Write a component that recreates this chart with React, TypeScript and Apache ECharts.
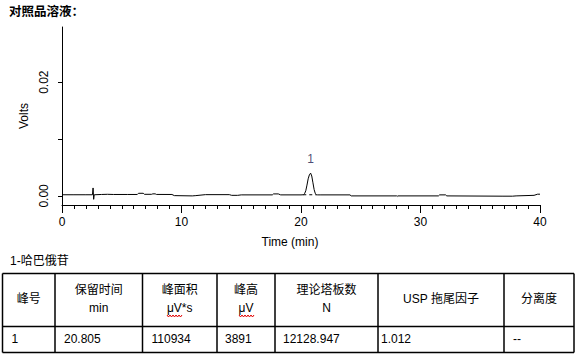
import React, { useEffect, useRef } from 'react';
import * as echarts from 'echarts';

// ---------- data ----------
const titleText = '对照品溶液：';
const compoundLabel = '1-哈巴俄苷';
const xAxisName = 'Time (min)';
const yAxisName = 'Volts';

// chromatogram trace (minutes, volts)
const times = [
  0, 1.0, 2.0, 2.55, 2.6, 2.65, 2.7, 3.3, 3.8, 4.3, 5.5, 6.3, 6.4, 6.8, 6.9, 7.5, 7.6, 7.8, 7.9,
  9.2, 9.4, 10.9, 11.2, 12.0, 14.0, 14.2, 14.7, 15.0, 17.6, 17.7, 18.1, 18.3, 20.0,
  20.2, 20.3, 20.4, 20.5, 20.6, 20.7, 20.805, 20.9, 21.0, 21.1, 21.2, 21.3, 21.4, 21.6,
  24.1, 24.2, 28.0, 28.05, 28.1, 31.5, 31.6, 32.1, 32.2, 36.9, 37.7, 38.0, 39.5, 39.8, 40.0,
];
const volts = [
  0.0002, 0.0002, 0.0002, 0.0002, 0.0014, -0.0006, 0.0002, 0.00025, 0.00028, 0.00025, 0.00025, 0.00025, 0.00046, 0.00046, 0.00028, 0.00028, 0.00036, 0.00036, 0.00026,
  0.00025, 0.00005, 0.0, 0.00005, 0.00022, 0.00022, 0.0001, 0.0001, 0.00018, 0.00018, 0.00035, 0.00035, 0.00018, 0.00018,
  0.0002, 0.0004, 0.0009, 0.0019, 0.003, 0.0037, 0.004, 0.0035, 0.0023, 0.0011, 0.0004, 0.0002, 0.00018, 0.00018,
  0.00018, 0.0, 0.0, -0.0001, 0.0, 0.0, 0.00018, 0.00018, 0.0, -0.00005, -0.00005, 0.0, 0.0001, 0.0003, 0.0003,
];

const peakTimes = [20.805];
const peakHeights = [0.004];
const peakNames = ['1'];
const integStart = [20.19];
const integEnd = [21.3];
const integBase = [0.0002];

const yTickValues = [0, 0.01, 0.02];
const yLabelValues = [0, 0.02];

// results table
const headerLine1 = ['峰号', '保留时间', '峰面积', '峰高', '理论塔板数', 'USP 拖尾因子', '分离度'];
const headerLine2 = ['', 'min', 'μV*s', 'μV', 'N', '', ''];
const rowValues = ['1', '20.805', '110934', '3891', '12128.947', '1.012', '--'];

// ---------- layout ----------
const FONT = '"Liberation Sans", Arial, "Noto Sans CJK SC", sans-serif';
const colX = [2.5, 55, 142.5, 217, 275, 378, 504, 574];
const cellPad = [9, 9, 9, 8, 8, 3, 9];
const tableTop = 273.5;
const rowSplit = 326.5;
const tableBottom = 352.5;

function zigzag(x0: number, x1: number, y: number) {
  const pts: number[][] = [];
  let up = true;
  for (let x = x0; x <= x1; x += 1.5) {
    pts.push([x, up ? y - 1 : y + 1]);
    up = !up;
  }
  return pts;
}

export default function App() {
  const ref = useRef<HTMLDivElement>(null);

  useEffect(() => {
    if (!ref.current) return;
    const chart = echarts.init(ref.current, undefined, { renderer: 'svg' });

    const trace = times.map((t, i) => [t, volts[i]]);
    const peaks = peakTimes.map((t, i) => ({ value: [t, peakHeights[i]], name: peakNames[i] }));
    const integ = integStart.map((s, i) => [
      [s, integBase[i]],
      [integEnd[i], integBase[i]],
    ])[0];

    const graphics: any[] = [];
    graphics.push({
      type: 'text',
      left: 10,
      top: 255,
      style: { text: compoundLabel, font: `12px ${FONT}`, fill: '#000' },
    });
    // table borders
    const lineStyle = { stroke: '#000', lineWidth: 1.5 };
    [tableTop, rowSplit, tableBottom].forEach((y) => {
      graphics.push({ type: 'line', shape: { x1: colX[0], y1: y, x2: colX[colX.length - 1], y2: y }, style: lineStyle });
    });
    colX.forEach((x) => {
      graphics.push({ type: 'line', shape: { x1: x, y1: tableTop, x2: x, y2: tableBottom }, style: lineStyle });
    });
    headerLine1.forEach((h, i) => {
      const cx = (colX[i] + colX[i + 1]) / 2;
      const two = headerLine2[i] !== '';
      graphics.push({
        type: 'text',
        x: cx,
        y: two ? 290 : 299,
        style: { text: h, font: `12px ${FONT}`, fill: '#000', align: 'center', verticalAlign: 'middle' },
      });
      if (two) {
        graphics.push({
          type: 'text',
          x: cx,
          y: 308,
          style: { text: headerLine2[i], font: `12px ${FONT}`, fill: '#000', align: 'center', verticalAlign: 'middle' },
        });
      }
    });
    rowValues.forEach((v, i) => {
      graphics.push({
        type: 'text',
        x: colX[i] + cellPad[i],
        y: 339,
        style: { text: v, font: `12px ${FONT}`, fill: '#000', align: 'left', verticalAlign: 'middle' },
      });
    });
    // spell-check wavy underline under μV units
    [[167, 182], [239, 254]].forEach(([a, b]) => {
      graphics.push({
        type: 'polyline',
        shape: { points: zigzag(a, b, 316) },
        style: { stroke: '#e00000', lineWidth: 1, fill: 'none' },
      });
    });

    chart.setOption({
      animation: false,
      backgroundColor: '#fff',
      title: {
        text: titleText,
        left: 9,
        top: 6,
        padding: 0,
        textStyle: { fontSize: 12.5, fontWeight: 'bold', color: '#000', fontFamily: FONT },
      },
      grid: { left: 62, right: 40, top: 27, bottom: 153, containLabel: false },
      xAxis: {
        type: 'value',
        min: 0,
        max: 40,
        interval: 10,
        name: xAxisName,
        nameLocation: 'middle',
        nameGap: 31,
        nameTextStyle: { fontSize: 12, color: '#000', fontFamily: FONT, padding: [0, 22, 0, 0] },
        axisLine: { onZero: false, lineStyle: { color: '#000', width: 1 } },
        axisTick: { show: true, length: 8, lineStyle: { color: '#000' } },
        minorTick: { show: true, splitNumber: 10, length: 4, lineStyle: { color: '#000' } },
        splitLine: { show: false },
        axisLabel: { fontSize: 12, color: '#000', fontFamily: FONT, margin: 11 },
      },
      yAxis: {
        type: 'value',
        min: -0.0016,
        max: 0.0297,
        name: yAxisName,
        nameLocation: 'middle',
        nameRotate: 90,
        nameGap: 30,
        nameTextStyle: { fontSize: 12, color: '#000', fontFamily: FONT },
        axisLine: { show: true, onZero: false, lineStyle: { color: '#000', width: 1 } },
        axisTick: { show: true, length: 4, lineStyle: { color: '#000' }, customValues: yTickValues },
        splitLine: { show: false },
        axisLabel: {
          fontSize: 12,
          color: '#000',
          fontFamily: FONT,
          rotate: 90,
          margin: 12,
          customValues: yLabelValues,
          formatter: (v: number) => v.toFixed(2),
        },
      },
      series: [
        {
          type: 'line',
          data: trace,
          showSymbol: false,
          symbol: 'none',
          lineStyle: { color: '#000', width: 1 },
          z: 3,
        },
        {
          type: 'line',
          data: integ,
          symbol: 'none',
          lineStyle: { color: '#000', width: 1, type: [3, 3] },
          z: 2,
        },
        {
          type: 'scatter',
          data: peaks,
          symbolSize: 0,
          label: {
            show: true,
            position: 'top',
            distance: 8,
            formatter: (p: any) => p.name,
            fontSize: 12,
            color: '#1a1a50',
            fontFamily: FONT,
          },
        },
      ],
      graphic: graphics,
    });

    return () => chart.dispose();
  }, []);

  return (
    <div
      ref={ref}
      style={{ position: 'absolute', left: 0, top: 0, width: 580, height: 358, background: '#fff' }}
    />
  );
}
